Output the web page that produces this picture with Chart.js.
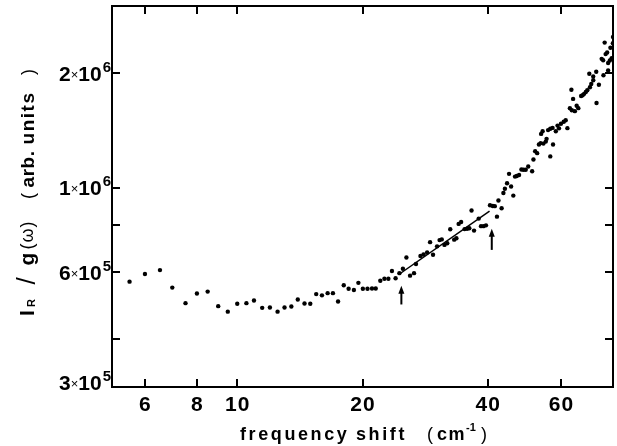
<!DOCTYPE html>
<html>
<head>
<meta charset="utf-8">
<script src="https://cdn.jsdelivr.net/npm/chart.js@4/dist/chart.umd.min.js"></script>
<style>
  html, body { margin: 0; padding: 0; background: #fff; }
  #wrap { width: 617px; height: 446px; }
</style>
</head>
<body>
<div id="wrap"><canvas id="chart"></canvas></div>
<script>
// frequency shift (cm-1) and I_R/g(w)
const shift = [
  5.51, 6.00, 6.52, 6.98, 7.51, 8.00, 8.49, 9.00, 9.49, 10.0,
  10.52, 10.97, 11.48, 11.98, 12.50, 12.99, 13.49, 13.98, 14.51, 14.98,
  15.48, 15.98, 16.49, 16.98, 17.47, 18.03, 18.52, 19.07, 19.55, 20.04,
  20.56, 21.08, 21.52, 22.07, 22.58, 23.08, 23.54, 24.02, 24.53, 25.01,
  25.50, 26.02, 26.60, 26.89, 27.56, 28.03, 28.60, 29.07, 29.55, 30.22,
  30.64, 31.01, 31.48, 31.97, 32.50, 33.22, 33.63, 34.05, 34.52, 35.19,
  35.68, 36.12, 36.57, 37.08, 38.05, 38.54, 39.08, 39.61, 40.50, 41.13,
  41.59, 42.09, 42.44, 43.19, 43.62, 43.98, 44.51, 45.00, 45.52, 46.08,
  46.51, 46.97, 47.57, 48.20, 48.76, 49.35, 50.04, 51.14, 51.51, 52.00,
  52.58, 53.10, 53.60, 53.74, 54.19, 54.43, 55.15, 55.39, 55.85, 56.54,
  56.54, 57.26, 57.41, 58.30, 58.85, 59.33, 59.98, 60.91, 61.58, 62.16,
  63.02, 63.55, 63.70, 64.15, 64.78, 65.43, 66.04, 67.06, 67.62, 68.18,
  68.82, 69.39, 70.16, 70.42, 70.93, 71.71, 71.71, 72.91, 73.03, 73.99,
  75.14, 75.76, 75.89, 76.39, 76.80, 77.45, 77.87, 77.87, 78.61, 78.87,
  79.40, 79.96, 80.0
];
const intensity = [
  567000, 594000, 608000, 547000, 498000, 528000, 534000, 489000, 473000, 496000,
  498000, 506000, 484000, 485000, 473000, 485000, 488000, 509000, 497000, 496000,
  526000, 522000, 529000, 529000, 503000, 555000, 543000, 539000, 563000, 543000,
  543000, 544000, 544000, 570000, 577000, 577000, 605000, 579000, 597000, 613000,
  656000, 588000, 597000, 631000, 662000, 668000, 676000, 720000, 667000, 702000,
  729000, 732000, 708000, 715000, 778000, 731000, 737000, 804000, 813000, 779000,
  781000, 783000, 872000, 772000, 830000, 793000, 793000, 797000, 900000, 896000,
  895000, 840000, 926000, 884000, 969000, 994000, 1028000, 1088000, 1008000, 954000,
  1070000, 1074000, 1080000, 1117000, 1115000, 1115000, 1137000, 1105000, 1186000, 1248000,
  1233000, 1299000, 1310000, 1385000, 1407000, 1306000, 1322000, 1344000, 1417000, 1429000,
  1209000, 1436000, 1299000, 1407000, 1456000, 1432000, 1473000, 1491000, 1504000, 1434000,
  1618000, 1808000, 1598000, 1711000, 1589000, 1642000, 1618000, 1742000, 1750000, 1764000,
  1784000, 1803000, 1992000, 1836000, 1872000, 1915000, 1959000, 2016000, 1669000, 1864000,
  2180000, 2161000, 1974000, 2405000, 2243000, 2265000, 2125000, 2033000, 2158000, 2330000,
  2187000, 2396000, 2489000
];

// straight power-law fit between the two arrows
const fitShift = [24.5, 40.4];
const fitIntensity = [593000, 868000];

// arrows marking the fit range
const arrowShift = [24.8, 40.9];
const arrowTip = [553000, 781000];
const arrowBase = [494000, 687000];

const xTicks = [6, 8, 10, 20, 40, 60];
const yTicks = [300000, 400000, 600000, 800000, 1000000, 2000000];
const yLabelValues = [300000, 600000, 1000000, 2000000];
const yLabelMant = ['3', '6', '1', '2'];
const yLabelExp = ['5', '5', '6', '6'];

const FONT = '"Liberation Sans", Arial, Helvetica, sans-serif';

const framePlugin = {
  id: 'frame',
  afterDraw(chart) {
    const ctx = chart.ctx;
    const a = chart.chartArea;
    const xs = chart.scales.x;
    const ys = chart.scales.y;
    ctx.save();
    ctx.strokeStyle = '#000';
    ctx.fillStyle = '#000';
    ctx.lineWidth = 2;
    ctx.strokeRect(a.left, a.top, a.right - a.left, a.bottom - a.top);

    // inward ticks on all four sides
    ctx.beginPath();
    xTicks.forEach(v => {
      const px = Math.round(xs.getPixelForValue(v));
      ctx.moveTo(px, a.bottom); ctx.lineTo(px, a.bottom - 8);
      ctx.moveTo(px, a.top); ctx.lineTo(px, a.top + 8);
    });
    yTicks.forEach(v => {
      const py = Math.round(ys.getPixelForValue(v));
      ctx.moveTo(a.left, py); ctx.lineTo(a.left + 8, py);
      ctx.moveTo(a.right, py); ctx.lineTo(a.right - 8, py);
    });
    ctx.stroke();

    // x tick labels
    ctx.font = 'bold 21px ' + FONT;
    ctx.textAlign = 'center';
    ctx.textBaseline = 'middle';
    ctx.letterSpacing = '1px';
    xTicks.forEach(v => {
      ctx.fillText(String(v), xs.getPixelForValue(v) + 0.5, 405);
    });

    // y tick labels  m×10^e
    ctx.textAlign = 'left';
    ctx.textBaseline = 'alphabetic';
    ctx.letterSpacing = '0px';
    yLabelValues.forEach((v, i) => {
      const py = ys.getPixelForValue(v);
      const base = Math.min(py + 7.5, a.bottom + 2.5);
      ctx.font = 'bold 21px ' + FONT;
      const wm = ctx.measureText(yLabelMant[i]).width;
      const wten = ctx.measureText('10').width;
      ctx.font = '13px ' + FONT;
      const wx = ctx.measureText('×').width;
      ctx.font = 'bold 15px ' + FONT;
      const we = ctx.measureText(yLabelExp[i]).width;
      let x0 = 111 - (wm + wx + wten + we + 1);
      ctx.font = 'bold 21px ' + FONT;
      ctx.fillText(yLabelMant[i], x0, base);
      x0 += wm;
      ctx.font = '13px ' + FONT;
      ctx.fillText('×', x0, base - 2);
      x0 += wx;
      ctx.font = 'bold 21px ' + FONT;
      ctx.fillText('10', x0, base);
      x0 += wten + 1;
      ctx.font = 'bold 15px ' + FONT;
      ctx.fillText(yLabelExp[i], x0, base - 9);
    });

    // x axis title
    ctx.textAlign = 'left';
    ctx.letterSpacing = '2.6px';
    ctx.font = 'bold 18px ' + FONT;
    ctx.fillText('frequency', 240, 440);
    ctx.fillText('shift', 356, 440);
    ctx.letterSpacing = '0px';
    ctx.font = '18px ' + FONT;
    ctx.fillText('(', 427, 440);
    ctx.font = 'bold 18px ' + FONT;
    ctx.letterSpacing = '1.5px';
    ctx.fillText('cm', 437, 440);
    ctx.letterSpacing = '0px';
    ctx.font = 'bold 11px ' + FONT;
    ctx.fillText('-1', 466, 431);
    ctx.font = '18px ' + FONT;
    ctx.fillText(')', 481, 440);

    // y axis title, rotated
    ctx.translate(34, 316);
    ctx.rotate(-Math.PI / 2);
    ctx.textAlign = 'center';
    const parts = [
      ['I', 3, 'bold 21px', 0, '0px'],
      ['R', 13, 'bold 11px', 1, '0px'],
      ['/', 35, '26px', 1, '0px'],
      ['g', 57, 'bold 21px', 0, '0px'],
      ['(\u03c9)', 81, '18px', -1, '1px'],
      ['(', 120, '18px', 0, '0px'],
      ['arb.', 147, 'bold 19px', 0, '0.5px'],
      ['units', 198, 'bold 19px', 0, '1.5px'],
      [')', 244, '18px', 0, '0px']
    ];
    parts.forEach(p => {
      ctx.font = p[2] + ' ' + FONT;
      ctx.letterSpacing = p[4];
      ctx.fillText(p[0], p[1], p[3]);
    });
    ctx.restore();

    // arrows
    ctx.save();
    ctx.strokeStyle = '#000';
    ctx.fillStyle = '#000';
    ctx.lineWidth = 2;
    arrowShift.forEach((v, i) => {
      const px = xs.getPixelForValue(v);
      const yt = ys.getPixelForValue(arrowTip[i]);
      const yb = ys.getPixelForValue(arrowBase[i]);
      ctx.beginPath();
      ctx.moveTo(px, yb); ctx.lineTo(px, yt + 5);
      ctx.stroke();
      ctx.beginPath();
      ctx.moveTo(px, yt);
      ctx.lineTo(px - 3, yt + 8);
      ctx.lineTo(px + 3, yt + 8);
      ctx.closePath();
      ctx.fill();
    });
    ctx.restore();
  }
};

new Chart(document.getElementById('chart'), {
  type: 'scatter',
  data: {
    datasets: [
      {
        data: shift.map((v, i) => ({ x: v, y: intensity[i] })),
        backgroundColor: '#000',
        borderColor: '#000',
        pointRadius: 2.2,
        pointBorderWidth: 0,
        order: 1
      },
      {
        type: 'line',
        data: fitShift.map((v, i) => ({ x: v, y: fitIntensity[i] })),
        borderColor: '#000',
        borderWidth: 1.5,
        pointRadius: 0,
        fill: false,
        order: 2
      }
    ]
  },
  options: {
    responsive: true,
    maintainAspectRatio: false,
    animation: false,
    events: [],
    layout: { padding: { top: 6, right: 1, left: 0, bottom: 0 } },
    plugins: {
      legend: { display: false },
      tooltip: { enabled: false }
    },
    scales: {
      x: {
        type: 'logarithmic',
        min: 5,
        max: 80,
        ticks: { display: false },
        grid: { display: false },
        border: { display: false },
        afterFit(s) { s.height = 59; }
      },
      y: {
        type: 'logarithmic',
        min: 300000,
        max: 3000000,
        ticks: { display: false },
        grid: { display: false },
        border: { display: false },
        afterFit(s) { s.width = 112; }
      }
    }
  },
  plugins: [framePlugin]
});
</script>
</body>
</html>
